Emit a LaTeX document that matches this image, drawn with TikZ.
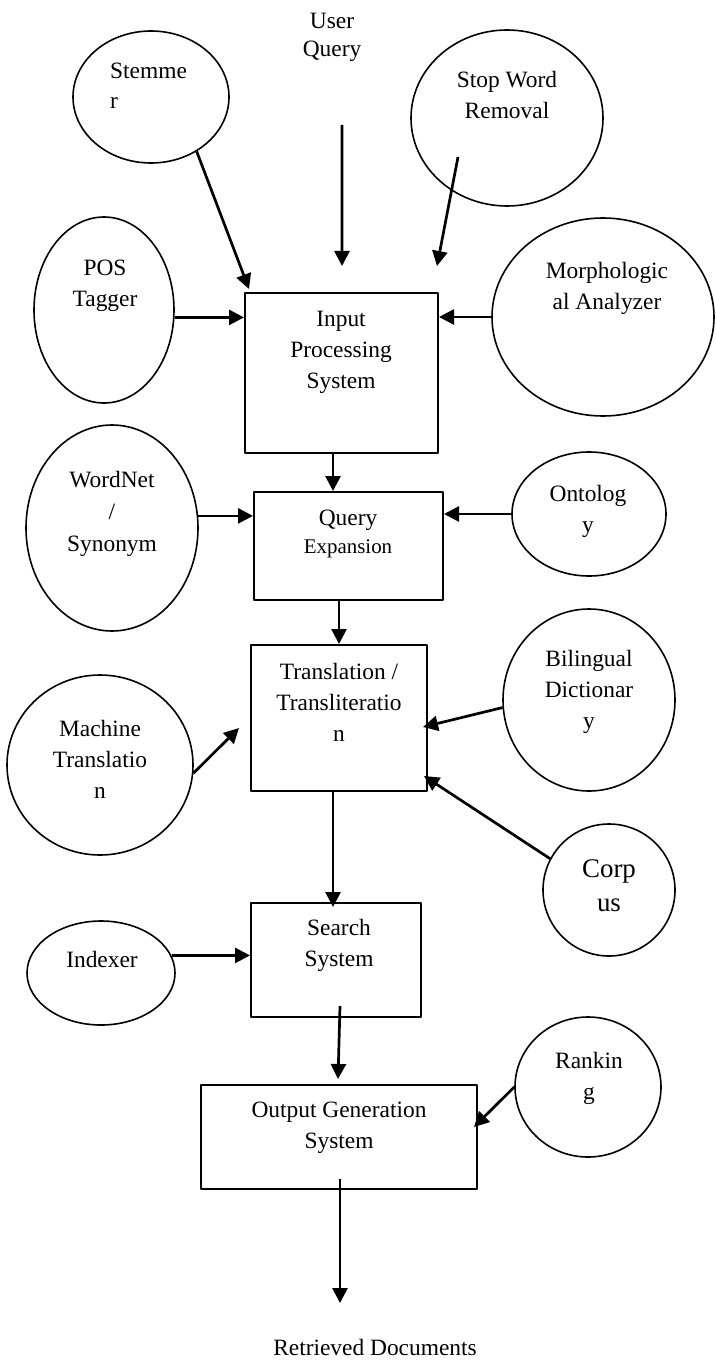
\documentclass[tikz,border=0pt]{standalone}
\usepackage{fontspec}
\setmainfont{Liberation Serif}
\usetikzlibrary{arrows.meta,shapes.geometric,calc}
\begin{document}
\begin{tikzpicture}[x=1bp,y=1bp,>={Triangle[length=15bp,width=15bp]},line join=bevel,
  bubble/.style={ellipse,draw,line width=1.6bp,inner sep=0pt},
  unit/.style={rectangle,draw,line width=2bp,inner sep=0pt},
  lbl/.style={font=\fontsize{23.5}{31}\selectfont,align=center,anchor=north,inner sep=0pt},
  flow/.style={->,line width=2.7bp}]
\useasboundingbox (0,0) rectangle (715,-1361);
%% processing units
\node (ips) at (341.5,-373) [unit,minimum width=193bp,minimum height=160bp] {};
\node (qexp) at (348.5,-546) [unit,minimum width=189bp,minimum height=108bp] {};
\node (trans) at (339,-718) [unit,minimum width=176bp,minimum height=146bp] {};
\node (search) at (336,-960) [unit,minimum width=170bp,minimum height=114bp] {};
\node (output) at (339,-1137) [unit,minimum width=276bp,minimum height=104bp] {};
%% resources
\node (stemmer) at (151,-97) [bubble,minimum width=156bp,minimum height=132bp] {};
\node (stopword) at (507,-118) [bubble,minimum width=192bp,minimum height=176bp] {};
\node (pos) at (104,-310) [bubble,minimum width=140bp,minimum height=186bp] {};
\node (morph) at (603,-317) [bubble,minimum width=222bp,minimum height=198bp] {};
\node (wordnet) at (112,-528) [bubble,minimum width=172bp,minimum height=206bp] {};
\node (ontology) at (589,-514) [bubble,minimum width=154bp,minimum height=124bp] {};
\node (bilingual) at (589,-700) [bubble,minimum width=172bp,minimum height=182bp] {};
\node (machine) at (100,-765) [bubble,minimum width=186bp,minimum height=180bp] {};
\node (corpus) at (609,-890) [bubble,minimum width=132bp,minimum height=132bp] {};
\node (indexer) at (101,-973) [bubble,minimum width=148bp,minimum height=104bp] {};
\node (ranking) at (588,-1087) [bubble,minimum width=146bp,minimum height=140bp] {};
%% texts
\node (userq) at (332,-13) [lbl] {User\\[-3pt]Query};
\node (stemmer_t) at (110,-63) [lbl,anchor=north west,align=left] {Stemme\\[-1pt]r};
\node (stopword_t) at (507,-71) [lbl] {Stop Word\\Removal};
\node (pos_t) at (105,-260) [lbl] {POS\\Tagger};
\node (morph_t) at (607,-262) [lbl] {Morphologic\\al Analyzer};
\node (ips_t) at (341,-311) [lbl] {Input\\Processing\\System};
\node (wordnet_t) at (112,-471) [lbl] {WordNet\\[1pt]/\\[1pt]Synonym};
\node (qexp_t) at (348,-510) [lbl] {Query\\[-3pt]\fontsize{21}{28}\selectfont Expansion};
\node (ontology_t) at (588,-485) [lbl] {Ontolog\\y};
\node (trans_t) at (339,-663) [lbl] {Translation /\\Transliteratio\\n};
\node (bilingual_t) at (589,-650) [lbl] {Bilingual\\Dictionar\\y};
\node (machine_t) at (100,-720) [lbl] {Machine\\Translatio\\n};
\node (corpus_t) at (609,-859) [lbl,font=\fontsize{27}{35}\selectfont] {Corp\\us};
\node (search_t) at (339,-919) [lbl] {Search\\System};
\node (indexer_t) at (102,-951) [lbl] {Indexer};
\node (output_t) at (339,-1102) [lbl] {Output Generation\\System};
\node (ranking_t) at (589,-1052) [lbl] {Rankin\\g};
\node (retrieved) at (375,-1339) [lbl] {Retrieved Documents};
%% connectors
\coordinate (uq_foot) at (342,-125);
\draw [flow] (uq_foot) -- ($(ips.north)+(0.5,26)$);
\draw [flow] (stemmer.-50) -- ($(ips.north west)+(5,3)$);
\draw [flow] ($(stopword)+(-49,-39)$) -- ($(ips.north east)+(-2,26)$);
\draw [flow] (pos.-6) -- (pos.-6 -| ips.west);
\draw [flow] (morph.west) -- (morph.west -| ips.east);
\draw [flow] ($(ips.south)+(-8.5,0)$) -- ($(qexp.north)+(-15.5,0)$);
\draw [flow] (wordnet.8) -- (wordnet.8 -| qexp.west);
\draw [flow] (ontology.west) -- (ontology.west -| qexp.east);
\draw [flow] ($(qexp.south)+(-9.5,0)$) -- (trans.north);
\draw [flow] (bilingual.185) -- ($(trans.east)+(-5,-9)$);
\draw [flow] (corpus.152) -- ($(trans.south east)+(-4,16)$);
\draw [flow] (machine.-5) -- ($(trans.west)+(-11,-10)$);
\draw [flow] ($(trans.south)+(-6,0)$) -- ($(search.north)+(-3,-5)$);
\draw [flow] (indexer.14) -- (indexer.14 -| search.west);
\draw [flow] ($(search.south)+(4,12)$) -- ($(output.north)+(-1,5)$);
\draw [flow] (ranking.west) -- ($(output.east)+(-4,10)$);
\draw [flow] ($(output.south)+(1,11)$) -- ($(output.south)+(1,-113)$);
%
\end{tikzpicture}
\end{document}
